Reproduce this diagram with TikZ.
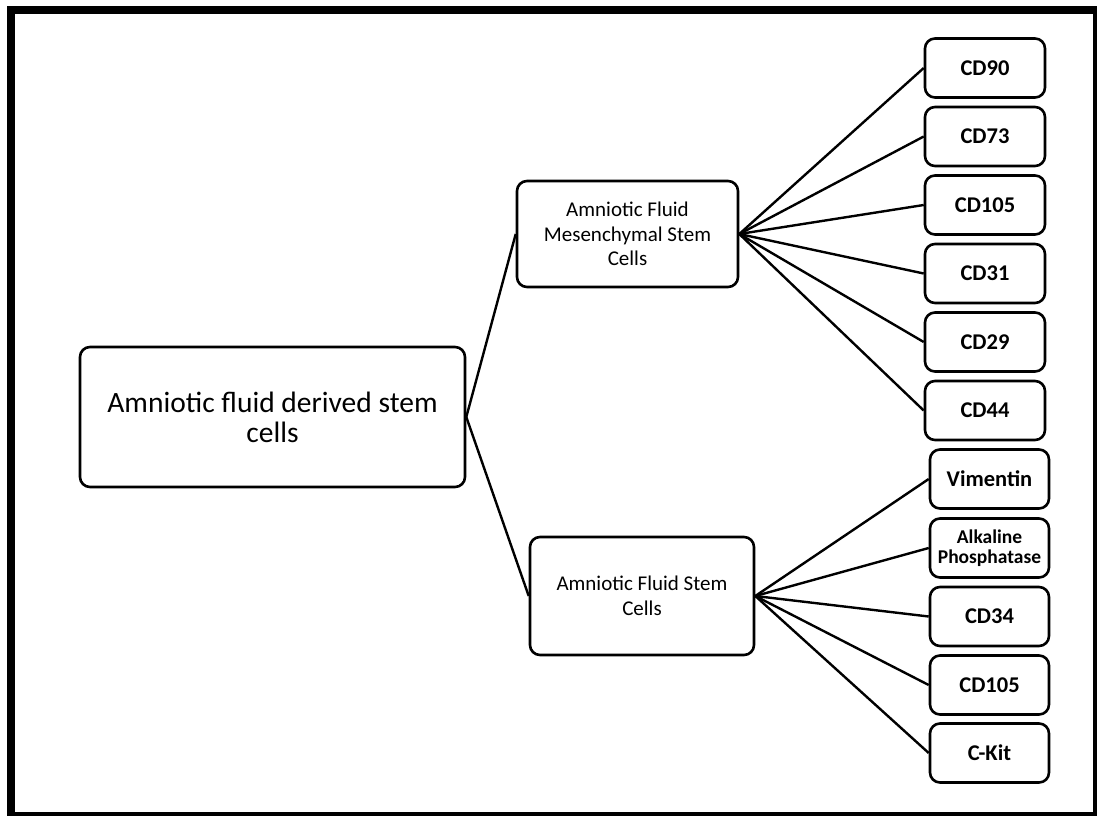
\documentclass[tikz,border=0pt]{standalone}
\usepackage{fontspec}
\setmainfont{Carlito}
\begin{document}
\begin{tikzpicture}[x=1pt,y=-1pt,
  box/.style={draw,line width=2.6pt,rounded corners=10pt,inner sep=0pt,align=center,fill=white},
  leaf/.style={box,minimum width=120pt,minimum height=59pt,font=\fontsize{22.5}{26}\selectfont\bfseries},
  link/.style={line width=2.4pt}]
\useasboundingbox (0,0) rectangle (1097,816);
\draw[line width=8pt] (11,10) rectangle (1097,816);
% main nodes
\node[box,minimum width=385pt,minimum height=140pt,font=\fontsize{29.5}{30}\selectfont] (root) at (272.5,417) {Amniotic fluid derived stem\\cells};
\node[box,minimum width=221pt,minimum height=106pt,font=\fontsize{21}{24.5}\selectfont] (msc) at (627.5,234) {Amniotic Fluid\\Mesenchymal Stem\\Cells};
\node[box,minimum width=224pt,minimum height=118pt,font=\fontsize{21}{24.5}\selectfont] (afsc) at (642,596) {Amniotic Fluid Stem\\Cells};
% top leaves
\node[leaf] (cd90) at (985,68) {CD90};
\node[leaf] (cd73) at (985,136.5) {CD73};
\node[leaf] (cd105a) at (985,205) {CD105};
\node[leaf] (cd31) at (985,273.5) {CD31};
\node[leaf] (cd29) at (985,342) {CD29};
\node[leaf] (cd44) at (985,410.5) {CD44};
% bottom leaves
\node[leaf,minimum width=119pt] (vim) at (989.5,479) {Vimentin};
\node[leaf,minimum width=119pt,font=\fontsize{19.5}{20}\selectfont\bfseries] (alp) at (989.5,548) {Alkaline\\Phosphatase};
\node[leaf,minimum width=119pt] (cd34) at (989.5,616.5) {CD34};
\node[leaf,minimum width=119pt] (cd105b) at (989.5,685) {CD105};
\node[leaf,minimum width=119pt] (ckit) at (989.5,753) {C-Kit};
% connectors
\draw[link] (root.east) -- (msc.west);
\draw[link] (root.east) -- (afsc.west);
\foreach \n in {cd90,cd73,cd105a,cd31,cd29,cd44}
  \draw[link] (msc.east) -- (\n.west);
\foreach \n in {vim,alp,cd34,cd105b,ckit}
  \draw[link] (afsc.east) -- (\n.west);
\end{tikzpicture}
\end{document}
